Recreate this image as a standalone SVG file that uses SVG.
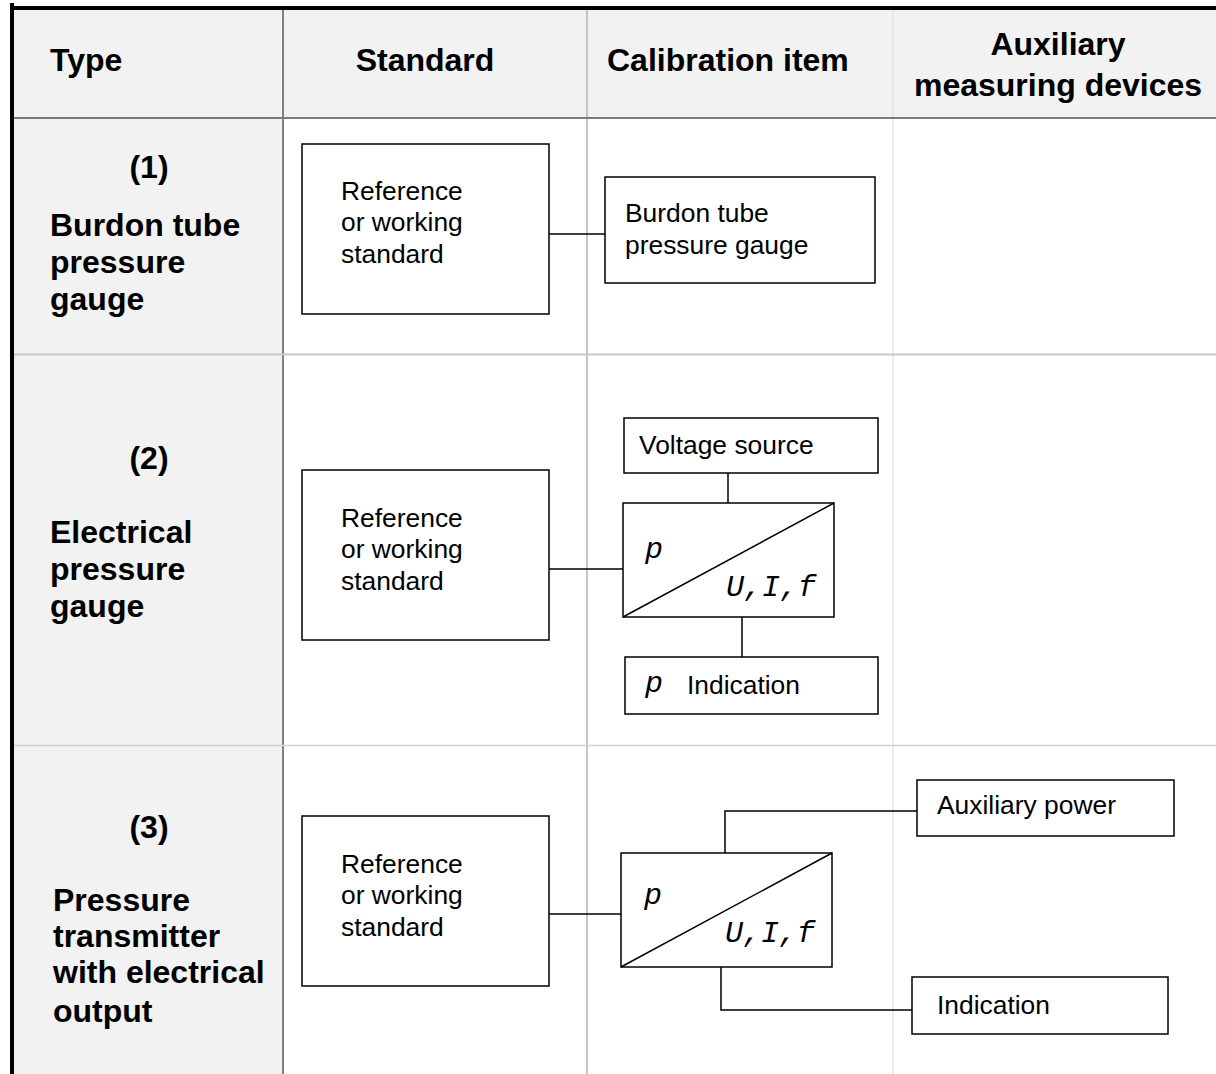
<svg xmlns="http://www.w3.org/2000/svg" width="1216" height="1074" viewBox="0 0 1216 1074">
<style>
.hd{font-family:"Liberation Sans",Arial,sans-serif;font-weight:bold;font-size:32px;fill:#000}
.tx{font-family:"Liberation Sans",Arial,sans-serif;font-size:26.4px;fill:#000}
.mono{font-family:"Liberation Mono","Courier New",monospace;font-style:italic;font-size:30px;fill:#000}
.box{fill:#fff;stroke:#000;stroke-width:1.5}
.ln{fill:none;stroke:#000;stroke-width:1.5}
</style>
<g id="table">
<rect x="0" y="0" width="1216" height="1074" fill="#fff"/>
<rect x="12" y="8" width="1204" height="110" fill="#f2f2f2"/>
<rect x="12" y="118" width="271" height="956" fill="#f2f2f2"/>
<line x1="893" y1="10" x2="893" y2="1074" stroke="#d9d9d9" stroke-width="1"/>
<line x1="587" y1="10" x2="587" y2="1074" stroke="#c4c4c4" stroke-width="2"/>
<line x1="283" y1="10" x2="283" y2="1074" stroke="#808080" stroke-width="2"/>
<line x1="12" y1="354.5" x2="1216" y2="354.5" stroke="#c8c8c8" stroke-width="2"/>
<line x1="12" y1="745.5" x2="1216" y2="745.5" stroke="#d0d0d0" stroke-width="1.5"/>
<line x1="12" y1="118" x2="1216" y2="118" stroke="#7a7a7a" stroke-width="2"/>
<line x1="10" y1="8" x2="1216" y2="8" stroke="#000" stroke-width="4"/>
<line x1="12" y1="3" x2="12" y2="1074" stroke="#000" stroke-width="4"/>
</g>
<g id="header">
<text class="hd" x="50" y="71">Type</text>
<text class="hd" x="425" y="71" text-anchor="middle">Standard</text>
<text class="hd" x="607" y="71">Calibration item</text>
<text class="hd" x="1058" y="55" text-anchor="middle">Auxiliary</text>
<text class="hd" x="1058" y="96" text-anchor="middle">measuring devices</text>
</g>
<g id="type1">
<text class="hd" x="149" y="178" text-anchor="middle">(1)</text>
<text class="hd" x="50" y="236">Burdon tube</text>
<text class="hd" x="50" y="273">pressure</text>
<text class="hd" x="50" y="310">gauge</text>
</g>
<g id="type2">
<text class="hd" x="149" y="469" text-anchor="middle">(2)</text>
<text class="hd" x="50" y="543">Electrical</text>
<text class="hd" x="50" y="580">pressure</text>
<text class="hd" x="50" y="617">gauge</text>
</g>
<g id="type3">
<text class="hd" x="149" y="838" text-anchor="middle">(3)</text>
<text class="hd" x="53" y="911">Pressure</text>
<text class="hd" x="53" y="947">transmitter</text>
<text class="hd" x="53" y="983">with electrical</text>
<text class="hd" x="53" y="1022">output</text>
</g>
<g id="connectors">
<line class="ln" x1="549" y1="234" x2="605" y2="234"/>
<line class="ln" x1="549" y1="569" x2="623" y2="569"/>
<line class="ln" x1="728" y1="473" x2="728" y2="503"/>
<line class="ln" x1="742" y1="617" x2="742" y2="657"/>
<line class="ln" x1="549" y1="914" x2="621" y2="914"/>
<polyline class="ln" points="725,853 725,811 917,811"/>
<polyline class="ln" points="721,967 721,1010 912,1010"/>
</g>
<g id="std1">
<rect class="box" x="302" y="144" width="247" height="170"/>
<text class="tx" x="341" y="200">Reference</text>
<text class="tx" x="341" y="231">or working</text>
<text class="tx" x="341" y="263">standard</text>
</g>
<g id="cal1">
<rect class="box" x="605" y="177" width="270" height="106"/>
<text class="tx" x="625" y="222">Burdon tube</text>
<text class="tx" x="625" y="254">pressure gauge</text>
</g>
<g id="std2">
<rect class="box" x="302" y="470" width="247" height="170"/>
<text class="tx" x="341" y="527">Reference</text>
<text class="tx" x="341" y="558">or working</text>
<text class="tx" x="341" y="590">standard</text>
</g>
<g id="volt">
<rect class="box" x="624" y="418" width="254" height="55"/>
<text class="tx" x="639" y="454">Voltage source</text>
</g>
<g id="trans2">
<rect class="box" x="623" y="503" width="211" height="114"/>
<line class="ln" x1="623" y1="617" x2="834" y2="503"/>
<text class="mono" x="645" y="558">p</text>
<text class="mono" x="726" y="596">U,I,f</text>
</g>
<g id="ind2">
<rect class="box" x="625" y="657" width="253" height="57"/>
<text class="mono" x="645" y="692">p</text>
<text class="tx" x="687" y="694">Indication</text>
</g>
<g id="std3">
<rect class="box" x="302" y="816" width="247" height="170"/>
<text class="tx" x="341" y="873">Reference</text>
<text class="tx" x="341" y="904">or working</text>
<text class="tx" x="341" y="936">standard</text>
</g>
<g id="trans3">
<rect class="box" x="621" y="853" width="211" height="114"/>
<line class="ln" x1="621" y1="967" x2="832" y2="853"/>
<text class="mono" x="644" y="904">p</text>
<text class="mono" x="725" y="942">U,I,f</text>
</g>
<g id="auxpower">
<rect class="box" x="917" y="780" width="257" height="56"/>
<text class="tx" x="937" y="814">Auxiliary power</text>
</g>
<g id="ind3">
<rect class="box" x="912" y="977" width="256" height="57"/>
<text class="tx" x="937" y="1014">Indication</text>
</g>
</svg>
